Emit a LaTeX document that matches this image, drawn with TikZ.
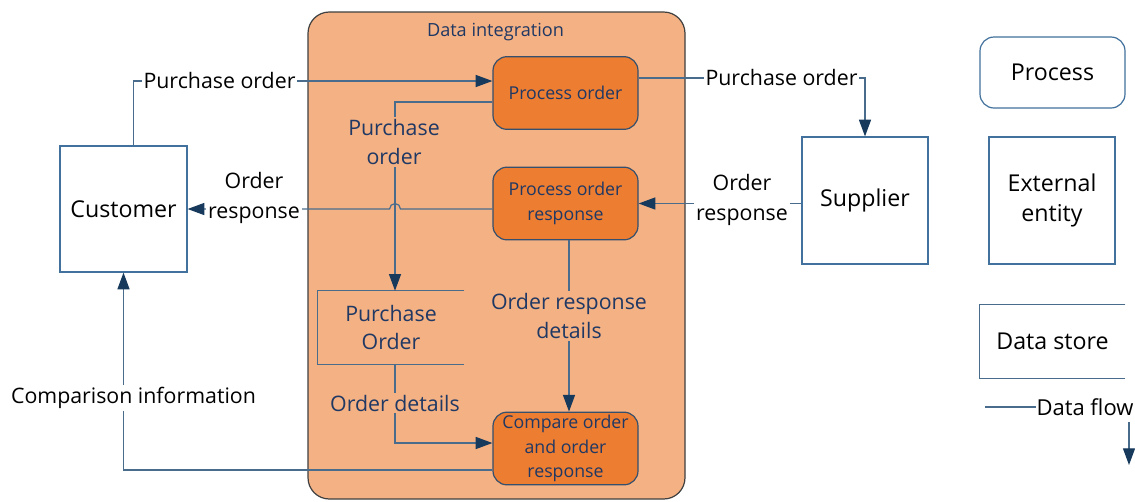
\documentclass[tikz,border=0pt]{standalone}
\usepackage{fontspec}
\setmainfont{Open Sans}
\usetikzlibrary{arrows.meta,calc}

\definecolor{contfill}{HTML}{F4B183}
\definecolor{contedge}{HTML}{404040}
\definecolor{procfill}{HTML}{ED7D31}
\definecolor{procedge}{HTML}{34506E}
\definecolor{ctext}{HTML}{1F3864}
\definecolor{linec}{HTML}{4A6C8C}
\definecolor{boxedge}{HTML}{41719C}
\definecolor{tipc}{HTML}{173A5C}

\tikzset{
  line/.style={draw=linec, line width=0.9pt},
  flow/.style={line, -{Triangle[length=12.5pt,width=9pt,color=tipc]}},
  entity/.style={draw=boxedge, line width=0.9pt, fill=white, align=center,
    font=\fontsize{17.4}{22.5}\selectfont},
  proc/.style={draw=procedge, line width=0.9pt, fill=procfill, rounded corners=10.5pt,
    text=ctext, align=center, minimum width=108.75pt, minimum height=54.5pt,
    font=\fontsize{13.3}{18.5}\selectfont, inner sep=1pt},
  container/.style={draw=contedge, line width=0.9pt, fill=contfill, rounded corners=16pt,
    minimum width=282.75pt, minimum height=365.25pt},
  lbl/.style={align=center, inner sep=1.5pt, font=\fontsize{16}{22}\selectfont},
  inlbl/.style={lbl, text=ctext, fill=contfill},
  outlbl/.style={lbl, fill=white}
}

\begin{document}
\begin{tikzpicture}[x=0.75pt,y=-0.75pt]
\useasboundingbox[fill=white] (0,0) rectangle (1135,501);

% data integration area
\node[container] (dint) at (496.5,255.5) {};
\node[text=ctext, font=\fontsize{13.6}{16}\selectfont] (dtitle) at (495.5,32) {Data integration};

% external entities
\node[entity, minimum width=95.25pt, minimum height=94.5pt] (cust) at (123.5,209) {Customer};
\node[entity, minimum width=94.5pt, minimum height=95.25pt] (sup) at (865,200.5) {Supplier};

% processes
\node[proc] (po) at (565.5,93) {Process order};
\node[proc] (por) at (565.5,203.5) {Process order\\response};
\node[proc] (cmp) at (565.5,448.5) {Compare order\\and order\\response};

% data store
\node[text=ctext, align=center, minimum width=109.5pt, minimum height=54.75pt,
  font=\fontsize{16}{21.5}\selectfont] (store) at (391,327.5) {Purchase\\Order};
\draw[line] (store.north east) -- (store.north west) -- (store.south west) -- (store.south east);

% data flows
\draw[flow] ($(cust.north)+(10,0)$) |- ($(po.west)+(0,-12)$);
\draw[flow] ($(po.east)+(0,-15)$) -| (sup.north);
\draw[flow] ($(po.west)+(0,9)$) -| ($(store.north)+(4,0)$);
\draw[flow] (por.west |- cust.east) -- ($(store.north |- cust.east)+(9.5,0)$)
  arc[start angle=0, end angle=180, radius=4.1pt] -- (cust.east);
\draw[flow] (sup.west |- por.east) -- (por.east);
\draw[flow] ($(por.south)+(3.5,0)$) -- ($(cmp.north)+(3.5,0)$);
\draw[flow] ($(store.south)+(4,0)$) |- ($(cmp.west)+(0,-5.5)$);
\draw[flow] ($(cmp.west)+(0,21.5)$) -| (cust.south);

% flow labels
\node[outlbl] (l1) at (219.5,80) {Purchase order};
\node[outlbl] (l2) at (781.5,77) {Purchase order};
\node[inlbl] (l3) at (394,142) {Purchase\\order};
\node[outlbl] (l4) at (254,198) {Order\\response};
\node[outlbl] (l5) at (742,200) {Order\\response};
\node[inlbl] (l6) at (569,316) {Order response\\details};
\node[inlbl] (l7) at (395,403) {Order details};
\node[outlbl] (l8) at (133.5,398) {Comparison information};

% legend
\node[draw=boxedge, line width=0.9pt, rounded corners=10.5pt, minimum width=108.75pt,
  minimum height=53.25pt, font=\fontsize{17.4}{22}\selectfont] (lproc) at (1052.5,72.5) {Process};
\node[entity, minimum width=94.5pt, minimum height=95.25pt] (lent) at (1052,200.5) {External\\entity};
\node[minimum width=108.75pt, minimum height=54.75pt,
  font=\fontsize{17.4}{22}\selectfont] (lstore) at (1052.5,341.5) {Data store};
\draw[line] (lstore.north east) -- (lstore.north west) -- (lstore.south west) -- (lstore.south east);
\node[lbl, inner sep=0.5pt, font=\fontsize{16.5}{22}\selectfont] (lflow) at (1085,407) {Data flow};
\coordinate (lflowstart) at (985,407);
\draw[line] (lflowstart) -- (lflow.west);
\coordinate (ltipstart) at (1129,422);
\coordinate (ltipend) at (1129,465);
\draw[flow] (ltipstart) -- (ltipend);
\end{tikzpicture}
\end{document}
